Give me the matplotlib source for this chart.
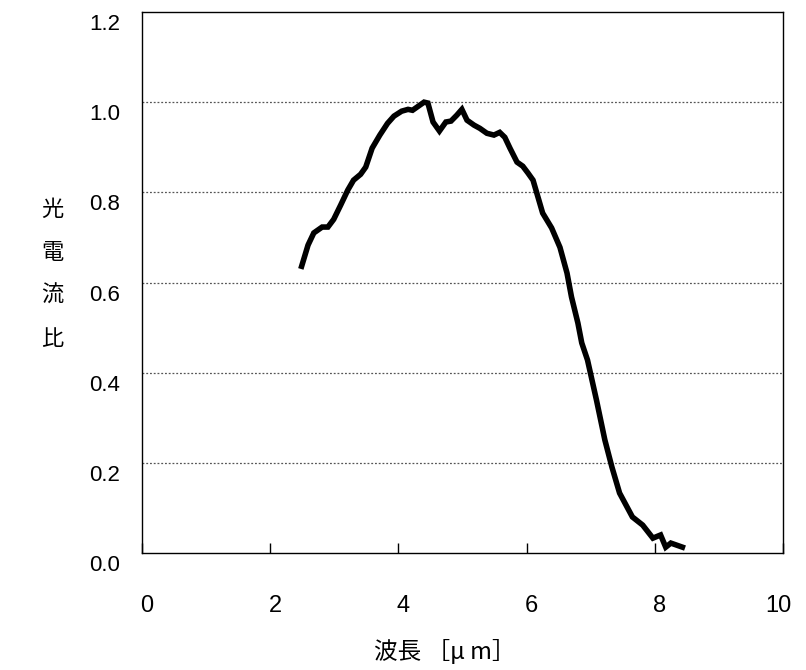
import matplotlib
matplotlib.use("Agg")
import matplotlib.pyplot as plt
from matplotlib.transforms import ScaledTranslation

plt.rcParams['font.family'] = ['Noto Sans CJK JP', 'DejaVu Sans']

wavelength = [2.49, 2.59, 2.68, 2.81, 2.90, 2.99, 3.10, 3.21, 3.30, 3.41, 3.49, 3.59,
              3.71, 3.83, 3.93, 4.05, 4.15, 4.22, 4.33, 4.40, 4.46, 4.54, 4.64, 4.74,
              4.82, 4.91, 4.99, 5.07, 5.18, 5.27, 5.38, 5.49, 5.58, 5.66, 5.74, 5.85,
              5.94, 6.02, 6.10, 6.25, 6.39, 6.52, 6.63, 6.70, 6.80, 6.86, 6.95, 7.09,
              7.22, 7.33, 7.45, 7.65, 7.81, 7.97, 8.09, 8.17, 8.25, 8.43]
ratio = [0.636, 0.683, 0.710, 0.723, 0.723, 0.740, 0.772, 0.805, 0.827, 0.840, 0.856, 0.898,
         0.927, 0.953, 0.969, 0.980, 0.984, 0.982, 0.993, 1.000, 0.998, 0.956, 0.936, 0.956,
         0.958, 0.971, 0.984, 0.960, 0.949, 0.942, 0.931, 0.927, 0.933, 0.922, 0.898, 0.867,
         0.858, 0.843, 0.827, 0.754, 0.721, 0.678, 0.621, 0.568, 0.510, 0.466, 0.428, 0.339,
         0.251, 0.191, 0.133, 0.080, 0.062, 0.033, 0.040, 0.013, 0.022, 0.013]

xticks = [0, 2, 4, 6, 8, 10]
yticks = [0.0, 0.2, 0.4, 0.6, 0.8, 1.0, 1.2]
ytick_labels = ['0.0', '0.2', '0.4', '0.6', '0.8', '1.0', '1.2']

fig = plt.figure(figsize=(8.06, 6.70), dpi=100)
ax = fig.add_axes([0.1762, 0.1746, 0.7953, 0.8075])

ax.plot(wavelength, ratio, color='black', linewidth=4.0, solid_joinstyle='miter')

ax.set_xlim(0, 10)
ax.set_ylim(0, 1.2)
ax.set_xticks(xticks)
ax.set_xticklabels([str(v) for v in xticks], fontsize=17,
                   family=['Liberation Sans Narrow', 'Liberation Sans', 'DejaVu Sans'])
ax.set_yticks(yticks)
ax.set_yticklabels(ytick_labels, fontsize=16, family=['Liberation Sans', 'DejaVu Sans'])

for gy in [0.2, 0.4, 0.6, 0.8, 1.0]:
    ax.axhline(gy, color='#555555', linewidth=0.9, linestyle=(0, (1.5, 1.5)), zorder=0)

ax.tick_params(axis='x', direction='in', length=7, width=1, pad=30, colors='black')
ax.tick_params(axis='y', length=0, pad=16)
for s in ax.spines.values():
    s.set_linewidth(1.0)
    s.set_color('black')

for lab in ax.get_yticklabels():
    lab.set_transform(lab.get_transform() + ScaledTranslation(0, -0.10, fig.dpi_scale_trans))
xlabs = ax.get_xticklabels()
for i, lab in enumerate(xlabs):
    dx = -0.05 if i == len(xlabs) - 1 else 0.05
    lab.set_transform(lab.get_transform() + ScaledTranslation(dx, 0, fig.dpi_scale_trans))

fig.text(445 / 806, 1 - 651 / 670, '波長 ［μ m］', ha='center', va='center', fontsize=17)
fig.text(52 / 806, 1 - 274 / 670, '光\n電\n流\n比', ha='center', va='center', fontsize=16,
         linespacing=2.1)

fig.savefig('out.png', dpi=100)
